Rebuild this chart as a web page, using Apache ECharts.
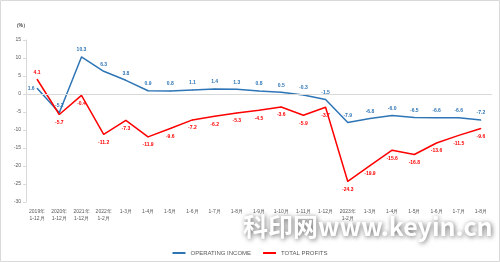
<!DOCTYPE html>
<html><head><meta charset="utf-8">
<script src="https://cdn.jsdelivr.net/npm/echarts@6/dist/echarts.min.js"></script>
<style>html,body{margin:0;padding:0;background:#fff}#c{width:500px;height:262px}</style>
</head><body><div id="c"></div>
<script>
const categories = ['2019年\n1-12月','2020年\n1-12月','2021年\n1-12月','2022年\n1-2月','1-3月','1-4月','1-5月','1-6月','1-7月','1-8月','1-9月','1-10月','1-11月','1-12月','2023年\n1-2月','1-3月','1-4月','1-5月','1-6月','1-7月','1-8月'];
const operatingIncome = [1.6,-5.2,10.3,6.3,3.8,0.9,0.8,1.1,1.4,1.3,0.8,0.5,-0.3,-1.5,-7.9,-6.8,-6.0,-6.5,-6.6,-6.6,-7.2];
const totalProfits = [4.1,-5.7,-0.4,-11.2,-7.3,-11.9,-9.6,-7.2,-6.2,-5.3,-4.5,-3.6,-5.9,-3.7,-24.3,-19.9,-15.6,-16.8,-13.6,-11.5,-9.6];
const yTicks = {min:-30, max:15, interval:5};

const chart = echarts.init(document.getElementById('c'));
const blue = '#2E75B6', red = '#FF0000';
const incomeData = operatingIncome.map((v,i)=>i===0?{value:v,label:{position:'left',distance:2}}:{value:v});
const profitData = totalProfits.map((v,i)=>i===0?{value:v,label:{position:'top',distance:4}}:{value:v});
chart.setOption({
  animation:false,
  grid:{left:26,right:8,top:40,bottom:60},
  legend:{bottom:1,left:'center',itemWidth:13,itemHeight:2,itemGap:12,icon:'rect',
    textStyle:{fontSize:6,color:'#595959',fontFamily:'Liberation Sans'},
    data:['OPERATING INCOME','TOTAL PROFITS']},
  xAxis:{type:'category',data:categories,boundaryGap:true,
    axisLine:{show:false},axisTick:{show:false},
    axisLabel:{interval:0,fontSize:5,color:'#595959',lineHeight:7,margin:6,fontFamily:'Liberation Sans'}},
  yAxis:{type:'value',min:yTicks.min,max:yTicks.max,interval:yTicks.interval,
    name:'（%）',nameLocation:'end',nameGap:12,
    nameTextStyle:{fontSize:5,color:'#404040',fontWeight:'bold',align:'right',padding:[0,-2,0,0]},
    axisLine:{show:true,lineStyle:{color:'#d9d9d9'}},
    axisTick:{show:true,length:3,lineStyle:{color:'#d9d9d9'}},
    splitLine:{show:false},
    axisLabel:{fontSize:5,color:'#595959',margin:5,fontFamily:'Liberation Sans'}},
  series:[
    {name:'OPERATING INCOME',type:'line',data:incomeData,symbol:'circle',symbolSize:1,showSymbol:true,
      itemStyle:{color:blue},lineStyle:{color:blue,width:1.5},
      label:{show:true,position:'top',distance:4,fontSize:5,fontWeight:'bold',color:blue,
        formatter:p=>Number(p.value).toFixed(1)},
      markLine:{silent:true,symbol:'none',label:{show:false},lineStyle:{color:'#d9d9d9',type:'solid',width:1},data:[{yAxis:0}]}},
    {name:'TOTAL PROFITS',type:'line',data:profitData,symbol:'circle',symbolSize:1,showSymbol:true,
      itemStyle:{color:red},lineStyle:{color:red,width:1.5},
      label:{show:true,position:'bottom',distance:5,fontSize:5,fontWeight:'bold',color:red,
        formatter:p=>Number(p.value).toFixed(1)}}
  ],
  graphic:[
    {type:'rect',shape:{x:0.5,y:0.5,width:499,height:261},style:{fill:'none',stroke:'#d9d9d9',lineWidth:1},silent:true},
    {type:'text',x:243,y:214,style:{text:'科印网www.keyin.cn',fill:'#ffffff',
      fontSize:25,fontWeight:'bold',fontFamily:'"Noto Sans CJK SC"',
      textShadowBlur:5,textShadowColor:'rgba(0,0,0,0.6)',textShadowOffsetX:1,textShadowOffsetY:1},silent:true,z:100}
  ]
});
</script></body></html>
